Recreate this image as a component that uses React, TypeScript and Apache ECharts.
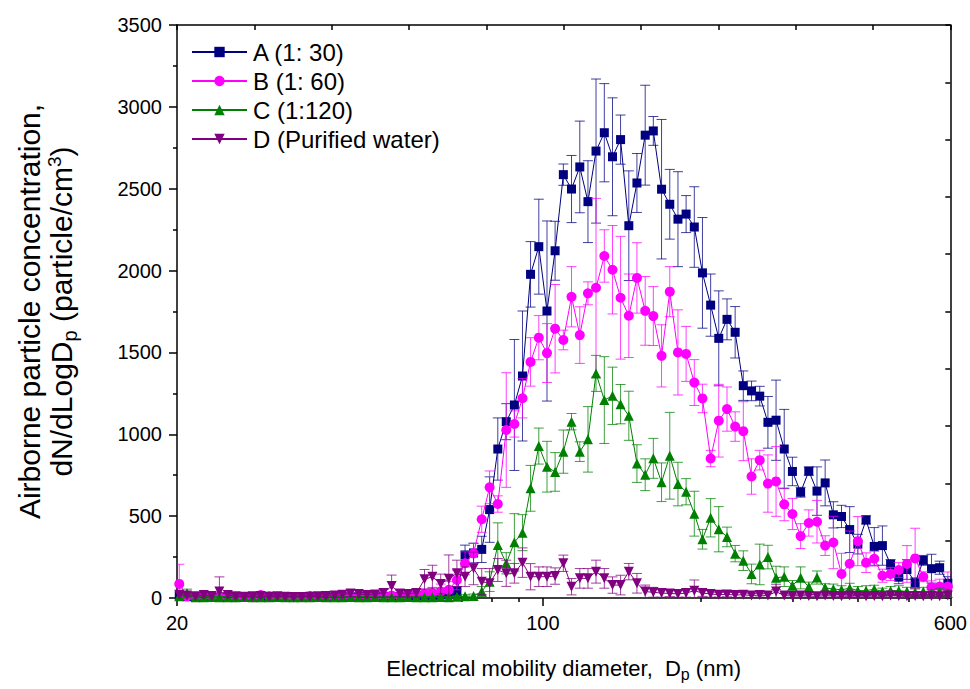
import React, { useEffect, useRef } from "react";
import * as echarts from "echarts";

// Electrical mobility diameter channel midpoints (nm), 64 channels/decade
const diameters = [
  20.2, 20.9, 21.7, 22.5, 23.3, 24.1, 25.0, 25.9, 26.9, 27.9,
  28.9, 30.0, 31.1, 32.2, 33.4, 34.6, 35.9, 37.2, 38.5, 40.0,
  41.4, 42.9, 44.5, 46.1, 47.8, 49.6, 51.4, 53.3, 55.2, 57.3,
  59.4, 61.5, 63.8, 66.1, 68.5, 71.0, 73.7, 76.4, 79.1, 82.0,
  85.1, 88.2, 91.4, 94.7, 98.2, 101.8, 105.5, 109.4, 113.4, 117.6,
  121.9, 126.3, 131.0, 135.8, 140.7, 145.9, 151.2, 156.8, 162.5, 168.5,
  174.7, 181.1, 187.7, 194.6, 201.7, 209.1, 216.7, 224.7, 232.9, 241.4,
  250.3, 259.5, 269.0, 278.8, 289.0, 299.6, 310.6, 322.0, 333.8, 346.0,
  358.7, 371.8, 385.4, 399.5, 414.2, 429.4, 445.1, 461.4, 478.3, 495.8,
  514.0, 532.8, 552.3, 572.5, 593.5,
];

const seriesA = [
  15, 8, 5, 6, 5, 4, 5, 4, 3, 4,
  5, 4, 3, 4, 3, 4, 5, 4, 5, 6,
  5, 6, 8, 7, 6, 8, 10, 8, 10, 12,
  15, 12, 20, 35, 40, 263, 275, 297, 540, 910,
  1077, 1179, 1356, 1977, 2146, 1753, 2121, 2586, 2498, 2633,
  2421, 2730, 2842, 2695, 2800, 2274, 2535, 2827, 2853, 2497,
  2405, 2314, 2345, 2266, 1986, 1789, 1586, 1702, 1623, 1297,
  1265, 1233, 1073, 1086, 910, 773, 646, 775, 653, 703,
  508, 498, 418, 329, 477, 315, 320, 205, 127, 174,
  93, 230, 179, 185, 90,
];
const errA = [
  20, 10, 8, 8, 8, 6, 8, 6, 5, 6,
  8, 6, 5, 6, 5, 6, 8, 6, 8, 8,
  8, 8, 10, 10, 8, 10, 12, 10, 12, 15,
  20, 15, 15, 20, 30, 60, 60, 80, 200, 190,
  110, 400, 397, 200, 290, 550, 180, 65, 205, 280,
  250, 440, 300, 360, 150, 335, 180, 305, 88, 426,
  213, 290, 113, 246, 338, 190, 290, 125, 157, 90,
  60, 60, 158, 245, 242, 87, 30, 25, 148, 140,
  80, 68, 140, 60, 25, 115, 120, 30, 40, 60,
  30, 30, 88, 40, 40,
];

const seriesB = [
  86, 10, 8, 12, 10, 8, 6, 5, 6, 5,
  18, 10, 8, 6, 5, 6, 12, 8, 6, 8,
  10, 8, 12, 10, 8, 10, 15, 12, 18, 20,
  25, 30, 40, 50, 110, 212, 273, 481, 676, 574,
  1026, 1063, 1220, 1442, 1590, 1496, 1645, 1576, 1840, 1606,
  1861, 1895, 2089, 2005, 1834, 1724, 1955, 1754, 1722, 1479,
  1871, 1500, 1491, 1316, 1219, 852, 1083, 1154, 1047, 1019,
  742, 842, 699, 712, 572, 513, 378, 458, 466, 320,
  339, 147, 209, 347, 216, 240, 136, 147, 171, 208,
  242, 130, 65, 70, 69,
];
const errB = [
  120, 15, 10, 15, 12, 10, 8, 8, 8, 8,
  20, 12, 10, 8, 8, 8, 15, 10, 8, 10,
  12, 10, 15, 12, 10, 12, 18, 15, 20, 22,
  30, 35, 45, 50, 60, 70, 60, 80, 100, 50,
  350, 80, 120, 148, 135, 180, 270, 60, 184, 173,
  70, 546, 160, 270, 375, 255, 215, 210, 180, 190,
  153, 260, 168, 140, 87, 50, 222, 135, 90, 180,
  108, 60, 175, 213, 100, 95, 76, 80, 130, 60,
  160, 126, 200, 150, 60, 45, 40, 40, 45, 112,
  184, 30, 40, 45, 90,
];

const seriesC = [
  10, 29, 5, 4, 6, 5, 4, 5, 6, 4,
  5, 4, 6, 5, 4, 5, 4, 6, 5, 4,
  5, 6, 4, 5, 6, 5, 4, 5, 6, 5,
  4, 5, 6, 5, 8, 10, 12, 40, 100, 324,
  212, 340, 399, 670, 928, 802, 770, 894, 1077, 894,
  969, 1372, 1209, 1235, 1184, 1113, 821, 753, 853, 707,
  869, 696, 649, 515, 359, 490, 420, 373, 271, 228,
  147, 205, 250, 123, 130, 77, 123, 67, 125, 62,
  55, 50, 60, 45, 45, 53, 40, 45, 45, 40,
  35, 40, 30, 35, 30,
];
const errC = [
  10, 25, 5, 5, 5, 5, 5, 5, 5, 5,
  5, 5, 5, 5, 5, 5, 5, 5, 5, 5,
  5, 5, 5, 5, 5, 5, 5, 5, 5, 5,
  5, 5, 5, 5, 8, 10, 12, 30, 60, 135,
  65, 175, 110, 140, 110, 155, 118, 132, 50, 60,
  200, 110, 265, 175, 120, 150, 115, 97, 122, 118,
  265, 133, 80, 137, 60, 117, 138, 60, 50, 60,
  60, 124, 72, 71, 60, 30, 67, 30, 40, 25,
  30, 25, 30, 25, 30, 25, 20, 25, 30, 25,
  20, 25, 20, 25, 20,
];

const seriesD = [
  20, 15, 10, 18, 12, 39, 18, 10, 8, 10,
  12, 8, 10, 8, 6, 6, 8, 10, 12, 15,
  20, 28, 25, 18, 22, 30, 73, 28, 25, 30,
  114, 130, 86, 118, 151, 130, 181, 100, 90, 171,
  151, 151, 216, 130, 130, 130, 134, 212, 69, 120,
  120, 161, 120, 79, 79, 161, 90, 39, 35, 30,
  28, 25, 30, 45, 30, 25, 20, 22, 18, 20,
  15, 18, 15, 39, 15, 12, 15, 12, 10, 15,
  12, 10, 15, 12, 10, 12, 10, 15, 12, 10,
  12, 10, 12, 10, 15,
];
const errD = [
  20, 15, 10, 15, 12, 90, 15, 10, 8, 10,
  10, 8, 10, 8, 6, 6, 8, 10, 10, 12,
  15, 20, 20, 15, 18, 25, 67, 20, 20, 25,
  60, 70, 60, 145, 80, 60, 100, 80, 90, 70,
  80, 60, 90, 80, 60, 60, 50, 50, 50, 60,
  60, 70, 60, 50, 60, 50, 60, 40, 30, 25,
  20, 20, 25, 65, 20, 20, 15, 15, 15, 15,
  12, 12, 12, 45, 12, 10, 10, 10, 10, 10,
  10, 10, 10, 10, 10, 10, 10, 10, 10, 10,
  10, 10, 10, 10, 10,
];

const seriesNames = ["A (1: 30)", "B (1: 60)", "C (1:120)", "D (Purified water)"];
const seriesColors = ["#000080", "#FF00FF", "#008000", "#800080"];
const seriesValues = [seriesA, seriesB, seriesC, seriesD];
const seriesErrors = [errA, errB, errC, errD];
const seriesSymbols = ["rect", "circle", "triangle", "triangle"];
const seriesSymbolRotate = [0, 0, 0, 180];
const seriesSymbolSize = [9, 10, 10, 10];

const xMin = 20;
const xMax = 600;
const xMajorTicks = [20, 100, 600];
const xMinorTicks = [30, 40, 50, 60, 70, 80, 90, 200, 300, 400, 500];
const yMax = 3500;
const yInterval = 500;

const FONT = "'Liberation Sans', Arial, Helvetica, sans-serif";

export default function App() {
  const ref = useRef<HTMLDivElement>(null);

  useEffect(() => {
    if (!ref.current) return;
    const chart = echarts.init(ref.current, undefined, { renderer: "svg" });
    const lx = (d: number) => Math.log10(d);

    const series: any[] = [];
    seriesNames.forEach((name, k) => {
      const color = seriesColors[k];
      const errData = diameters.map((d, i) => [lx(d), seriesValues[k][i], seriesErrors[k][i]]);
      series.push({
        name: name + " err",
        type: "custom",
        xAxisIndex: 0,
        yAxisIndex: 0,
        clip: true,
        z: 2 + k * 2,
        silent: true,
        encode: { x: 0, y: 1 },
        data: errData,
        renderItem: (params: any, api: any) => {
          const x = api.value(0);
          const y = api.value(1);
          const e = api.value(2);
          const top = api.coord([x, y + e]);
          const lowVal = Math.max(0, y - e);
          const bot = api.coord([x, lowVal]);
          const hw = 5;
          const style = { stroke: color, lineWidth: 1, opacity: 0.75 };
          const children: any[] = [
            { type: "line", shape: { x1: top[0], y1: top[1], x2: bot[0], y2: bot[1] }, style },
            { type: "line", shape: { x1: top[0] - hw, y1: top[1], x2: top[0] + hw, y2: top[1] }, style },
          ];
          if (y - e > 0) {
            children.push({ type: "line", shape: { x1: bot[0] - hw, y1: bot[1], x2: bot[0] + hw, y2: bot[1] }, style });
          }
          return { type: "group", children };
        },
      });
      series.push({
        name,
        type: "line",
        xAxisIndex: 0,
        yAxisIndex: 0,
        z: 3 + k * 2,
        data: diameters.map((d, i) => [lx(d), seriesValues[k][i]]),
        symbol: seriesSymbols[k],
        symbolRotate: seriesSymbolRotate[k],
        symbolSize: seriesSymbolSize[k],
        showSymbol: true,
        lineStyle: { color, width: 1 },
        itemStyle: { color, borderWidth: 0 },
        emphasis: { disabled: true },
      });
    });

    const option: any = {
      animation: false,
      textStyle: { fontFamily: FONT },
      grid: { left: 177, right: 19, top: 25, bottom: 91, containLabel: false },
      legend: {
        data: seriesNames,
        orient: "vertical",
        left: 191,
        top: 40,
        padding: 0,
        itemWidth: 55,
        itemHeight: 13,
        itemGap: 5,
        textStyle: { fontSize: 24, color: "#000", fontFamily: FONT, padding: [0, 0, 0, 1] },
        selectedMode: false,
      },
      xAxis: [
        {
          type: "value",
          min: lx(xMin),
          max: lx(xMax),
          position: "bottom",
          axisLine: { show: true, onZero: false, lineStyle: { color: "#000", width: 1.5 } },
          axisTick: { show: true, length: 8, customValues: xMajorTicks.map(lx), lineStyle: { color: "#000", width: 1.5 } },
          axisLabel: {
            customValues: xMajorTicks.map(lx),
            formatter: (v: number) => String(Math.round(Math.pow(10, v))),
            fontSize: 20,
            color: "#000",
            margin: 15,
            fontFamily: FONT,
          },
          splitLine: { show: false },
          name: "Electrical mobility diameter,  D{sub|p} (nm)",
          nameLocation: "middle",
          nameGap: 56,
          nameTextStyle: {
            fontSize: 22,
            color: "#000",
            fontFamily: FONT,
            lineHeight: 28,
            rich: {
              sub: { fontSize: 16, lineHeight: 12, verticalAlign: "bottom", color: "#000", fontFamily: FONT },
            },
          },
        },
        {
          type: "value",
          min: lx(xMin),
          max: lx(xMax),
          position: "bottom",
          axisLine: { show: false },
          axisTick: { show: true, length: 4, customValues: xMinorTicks.map(lx), lineStyle: { color: "#000", width: 1.5 } },
          axisLabel: { show: false },
          splitLine: { show: false },
        },
        {
          type: "value",
          min: 0,
          max: 10,
          interval: 1,
          position: "top",
          axisLine: { show: true, onZero: false, lineStyle: { color: "#000", width: 1.5 } },
          axisTick: { show: true, inside: true, length: 5, lineStyle: { color: "#000", width: 1.5 } },
          axisLabel: { show: false },
          splitLine: { show: false },
        },
      ],
      yAxis: [
        {
          type: "value",
          min: 0,
          max: yMax,
          interval: yInterval,
          position: "left",
          axisLine: { show: true, onZero: false, lineStyle: { color: "#000", width: 1.5 } },
          axisTick: { show: true, length: 8, lineStyle: { color: "#000", width: 1.5 } },
          minorTick: { show: true, splitNumber: 2, length: 4, lineStyle: { color: "#000", width: 1.5 } },
          axisLabel: { fontSize: 20, color: "#000", margin: 15, fontFamily: FONT, formatter: (v: number) => String(v) },
          splitLine: { show: false },
          name: "Airborne particle concentration,\ndN/dLogD{sub|p} (particle/cm{sup|3})",
          nameLocation: "middle",
          nameRotate: 90,
          nameGap: 100,
          nameTextStyle: {
            fontSize: 30,
            color: "#000",
            fontFamily: FONT,
            lineHeight: 32,
            align: "center",
            rich: {
              sub: { fontSize: 20, lineHeight: 10, verticalAlign: "middle", padding: [18, 0, 0, 0], color: "#000", fontFamily: FONT },
              sup: { fontSize: 19, lineHeight: 24, verticalAlign: "top", color: "#000", fontFamily: FONT },
            },
          },
        },
        {
          type: "value",
          min: 0,
          max: 10,
          interval: 1,
          position: "right",
          axisLine: { show: true, onZero: false, lineStyle: { color: "#000", width: 1.5 } },
          axisTick: { show: true, inside: true, length: 5, lineStyle: { color: "#000", width: 1.5 } },
          axisLabel: { show: false },
          splitLine: { show: false },
        },
      ],
      series,
    };

    chart.setOption(option);
    return () => chart.dispose();
  }, []);

  return (
    <div
      ref={ref}
      style={{ position: "absolute", left: 0, top: 0, width: 970, height: 689, background: "#fff" }}
    />
  );
}
